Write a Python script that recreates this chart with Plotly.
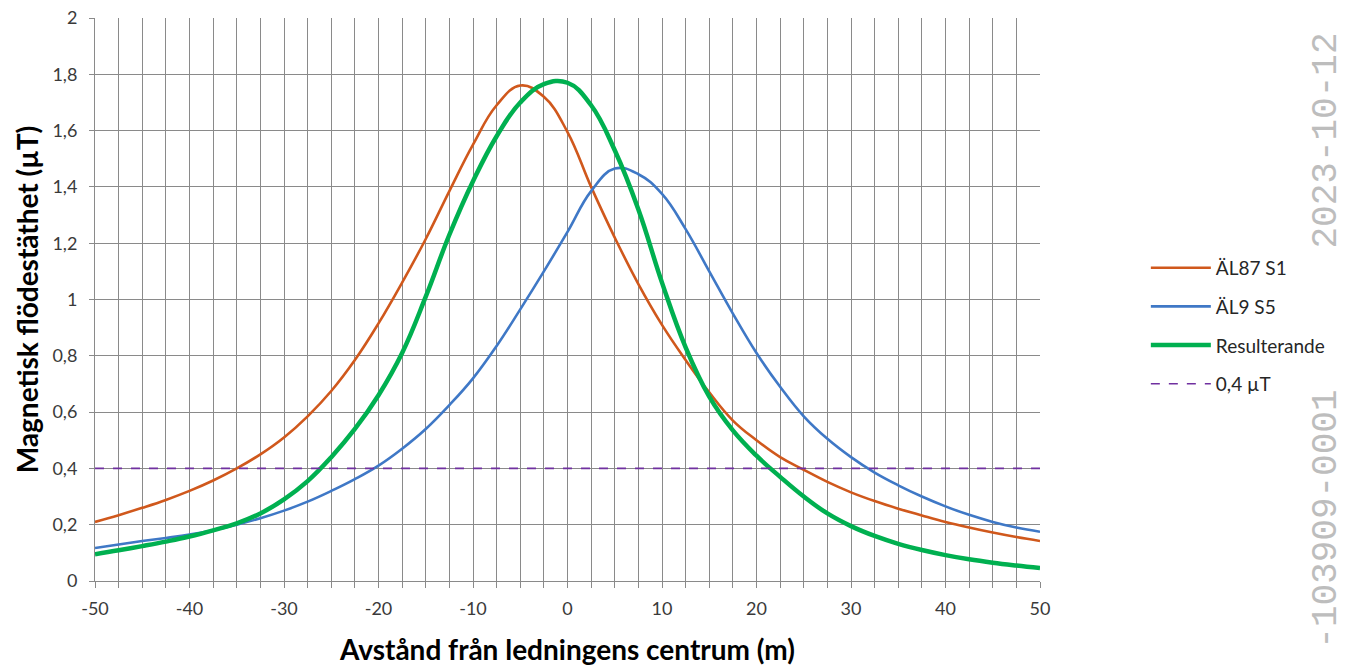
import plotly.graph_objects as go

# ---- data ----
distance_m = [-50, -47.5, -45, -42.5, -40, -37.5, -35, -32.5, -30, -27.5,
              -25, -22.5, -20, -17.5, -15, -12.5, -10, -7.5, -5, -2.5,
              0, 2.5, 5, 7.5, 10, 12.5, 15, 17.5, 20, 22.5,
              25, 27.5, 30, 32.5, 35, 37.5, 40, 42.5, 45, 47.5, 50]

al87_s1 = [0.21, 0.234, 0.26, 0.288, 0.32, 0.357, 0.40, 0.45, 0.51, 0.585,
           0.675, 0.785, 0.915, 1.06, 1.215, 1.385, 1.55, 1.69, 1.76, 1.72,
           1.595, 1.40, 1.22, 1.055, 0.91, 0.785, 0.67, 0.57, 0.50, 0.44,
           0.395, 0.352, 0.315, 0.284, 0.257, 0.233, 0.21, 0.19, 0.172, 0.156, 0.142]

al9_s5 = [0.117, 0.13, 0.142, 0.153, 0.165, 0.18, 0.20, 0.223, 0.25, 0.282,
          0.32, 0.362, 0.41, 0.47, 0.54, 0.625, 0.72, 0.835, 0.965, 1.10,
          1.24, 1.385, 1.465, 1.445, 1.375, 1.25, 1.10, 0.95, 0.81, 0.69,
          0.585, 0.505, 0.44, 0.385, 0.34, 0.30, 0.265, 0.235, 0.21, 0.19, 0.175]

resulterande = [0.095, 0.109, 0.124, 0.14, 0.158, 0.18, 0.205, 0.24, 0.29, 0.355,
                0.44, 0.54, 0.66, 0.81, 1.01, 1.23, 1.42, 1.58, 1.70, 1.765,
                1.77, 1.69, 1.53, 1.32, 1.06, 0.83, 0.655, 0.535, 0.445, 0.37,
                0.30, 0.24, 0.195, 0.16, 0.132, 0.11, 0.092, 0.077, 0.065, 0.055, 0.046]

limit_x = [-50, 50]
limit_y = [0.4, 0.4]

series_names = ["ÄL87 S1", "ÄL9 S5", "Resulterande", "0,4 µT"]

x_tick_vals = [-50, -47.5, -45, -42.5, -40, -37.5, -35, -32.5, -30, -27.5,
               -25, -22.5, -20, -17.5, -15, -12.5, -10, -7.5, -5, -2.5,
               0, 2.5, 5, 7.5, 10, 12.5, 15, 17.5, 20, 22.5,
               25, 27.5, 30, 32.5, 35, 37.5, 40, 42.5, 45, 47.5, 50]
x_tick_labels = ["-50", "", "", "", "-40", "", "", "", "-30", "",
                 "", "", "-20", "", "", "", "-10", "", "", "",
                 "0", "", "", "", "10", "", "", "", "20", "",
                 "", "", "30", "", "", "", "40", "", "", "", "50"]
y_tick_vals = [0, 0.2, 0.4, 0.6, 0.8, 1.0, 1.2, 1.4, 1.6, 1.8, 2.0]
y_tick_labels = ["0", "0,2", "0,4", "0,6", "0,8", "1", "1,2", "1,4", "1,6", "1,8", "2"]

watermark_top = "2023-10-12"
watermark_bottom = "-103909-0001"

# ---- figure ----
fig = go.Figure()
fig.add_trace(go.Scatter(x=distance_m, y=al87_s1, name=series_names[0], mode="lines",
                         line=dict(color="#D0581C", width=2.6, shape="spline", smoothing=1.2),
                         legendgroup="a"))
fig.add_trace(go.Scatter(x=distance_m, y=al9_s5, name=series_names[1], mode="lines",
                         line=dict(color="#3F78C6", width=2.6, shape="spline", smoothing=1.2),
                         legendgroup="b"))
fig.add_trace(go.Scatter(x=distance_m, y=resulterande, name=series_names[2], mode="lines",
                         line=dict(color="#00B050", width=4.5, shape="spline", smoothing=1.2),
                         legendgroup="c"))
fig.add_trace(go.Scatter(x=limit_x, y=limit_y, name=series_names[3], mode="lines",
                         line=dict(color="#7030A0", width=1.6, dash="dash"),
                         legendgroup="d"))

grid = "#8A8A8A"
tickfont = dict(family="Lato, Open Sans, sans-serif", size=18, color="#3A3A3A")

fig.update_layout(
    width=1348, height=666,
    margin=dict(l=95, r=308, t=18, b=85),
    paper_bgcolor="white", plot_bgcolor="white",
    showlegend=True,
    legend=dict(x=1.112, y=0.59, xanchor="left", yanchor="top",
                font=dict(family="Lato, Open Sans, sans-serif", size=19, color="#262626"),
                tracegroupgap=11, itemwidth=60, bgcolor="rgba(0,0,0,0)"),
    xaxis=dict(range=[-50, 50], tickmode="array", tickvals=x_tick_vals, ticktext=x_tick_labels,
               showgrid=True, gridcolor=grid, gridwidth=1, zeroline=False, automargin=False,
               showline=True, linecolor=grid, linewidth=1,
               ticks="outside", ticklen=6, tickcolor=grid, tickfont=tickfont,
               ticklabelstandoff=5,
               title=dict(text="<b>Avstånd från ledningens centrum (m)</b>",
                          font=dict(family="Lato, Open Sans, sans-serif", size=28, color="#000000"),
                          standoff=24)),
    yaxis=dict(range=[0, 2], tickmode="array", tickvals=y_tick_vals, ticktext=y_tick_labels,
               showgrid=True, gridcolor=grid, gridwidth=1, zeroline=False, automargin=False,
               showline=True, linecolor=grid, linewidth=1,
               ticks="outside", ticklen=5, tickcolor=grid, tickfont=tickfont,
               ticklabelstandoff=8,
               title=dict(text="<b>Magnetisk flödestäthet (µT)</b>",
                          font=dict(family="Lato, Open Sans, sans-serif", size=28, color="#000000"),
                          standoff=5)),
)

fig.add_annotation(xref="paper", yref="paper", x=1.303, y=0.783, text=watermark_top,
                   textangle=-90, showarrow=False, yanchor="middle", xanchor="center",
                   font=dict(family="Liberation Mono", size=36, color="#BDBDBD"))
fig.add_annotation(xref="paper", yref="paper", x=1.303, y=0.343, text=watermark_bottom,
                   textangle=-90, showarrow=False, yanchor="top", xanchor="center",
                   font=dict(family="Liberation Mono", size=36, color="#BDBDBD"))

fig.write_html("out.html")
